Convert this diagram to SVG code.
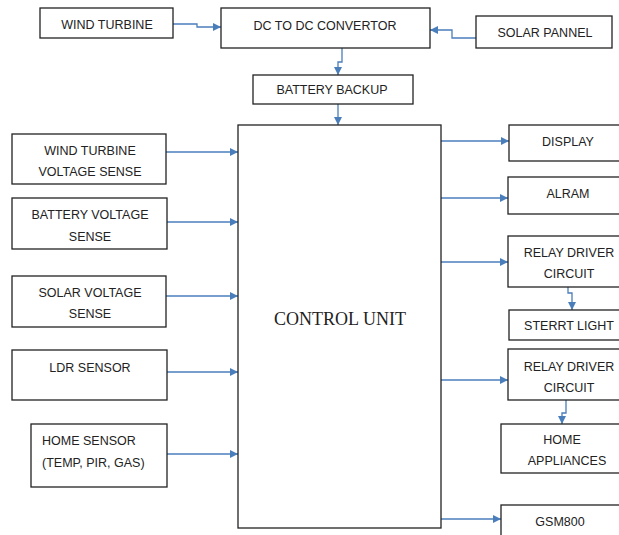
<svg xmlns="http://www.w3.org/2000/svg" width="619" height="535" viewBox="0 0 619 535">
<defs>
<marker id="ah" viewBox="0 0 10 10" refX="10" refY="5" markerWidth="8" markerHeight="8" markerUnits="userSpaceOnUse" orient="auto">
<path d="M0,0 L10,5 L0,10 z" fill="#4a7ebb"/>
</marker>
<style>
rect{fill:#fff;stroke:#222;stroke-width:1.3}
text{font-family:"Liberation Sans",Arial,sans-serif;font-size:12.5px;fill:#222;text-anchor:middle}
.c{stroke:#4a7ebb;stroke-width:1.3;fill:none;marker-end:url(#ah)}
.big{font-family:"Liberation Serif","Times New Roman",serif;font-size:18px}
.l{text-anchor:start}
</style>
</defs>
<rect x="0" y="0" width="619" height="535" style="fill:#fff;stroke:none"/>
<g id="connectors">
<path class="c" d="M173,24 H197 V27 H221"/>
<path class="c" d="M476,38 H452 V30 H430"/>
<path class="c" d="M342,48 V62 H338 V75"/>
<path class="c" d="M338,104 V125"/>
<path class="c" d="M166,152 H238"/>
<path class="c" d="M167,222 H238"/>
<path class="c" d="M166,296 H238"/>
<path class="c" d="M167,372 H238"/>
<path class="c" d="M167,454 H238"/>
<path class="c" d="M441,141 H509"/>
<path class="c" d="M441,198 H508"/>
<path class="c" d="M441,262 H508"/>
<path class="c" d="M568,287 V293 H572 V310"/>
<path class="c" d="M441,380 H508"/>
<path class="c" d="M566,400 V413 H562 V424"/>
<path class="c" d="M441,519 H501"/>
</g>
<g id="wind-turbine"><rect x="40" y="8" width="133" height="30"/><text x="107" y="29">WIND TURBINE</text></g>
<g id="dc-dc"><rect x="221" y="8" width="209" height="40"/><text x="325" y="30">DC TO DC CONVERTOR</text></g>
<g id="solar-pannel"><rect x="476" y="16" width="136" height="32"/><text x="545" y="37">SOLAR PANNEL</text></g>
<g id="battery-backup"><rect x="253" y="75" width="160" height="29"/><text x="332" y="94">BATTERY BACKUP</text></g>
<g id="control-unit"><rect x="238" y="125" width="203" height="403"/><text class="big" x="340" y="325">CONTROL UNIT</text></g>
<g id="wt-voltage"><rect x="12" y="134" width="154" height="50"/><text x="90" y="155">WIND TURBINE</text><text x="90" y="176">VOLTAGE SENSE</text></g>
<g id="bat-voltage"><rect x="12" y="198" width="155" height="51"/><text x="90" y="219">BATTERY  VOLTAGE</text><text x="90" y="241">SENSE</text></g>
<g id="solar-voltage"><rect x="12" y="276" width="154" height="51"/><text x="90" y="297">SOLAR VOLTAGE</text><text x="90" y="318">SENSE</text></g>
<g id="ldr"><rect x="12" y="350" width="155" height="50"/><text x="90" y="372">LDR SENSOR</text></g>
<g id="home-sensor"><rect x="31" y="424" width="136" height="63"/><text class="l" x="42" y="445">HOME SENSOR</text><text class="l" x="42" y="467">(TEMP, PIR, GAS)</text></g>
<g id="display"><rect x="509" y="125" width="115" height="36"/><text x="568" y="146">DISPLAY</text></g>
<g id="alram"><rect x="508" y="177" width="116" height="37"/><text x="568" y="198">ALRAM</text></g>
<g id="relay1"><rect x="508" y="236" width="116" height="51"/><text x="569" y="257">RELAY DRIVER</text><text x="569" y="278">CIRCUIT</text></g>
<g id="street-light"><rect x="509" y="310" width="115" height="30"/><text x="569" y="330">STERRT  LIGHT</text></g>
<g id="relay2"><rect x="508" y="349" width="116" height="51"/><text x="569" y="371">RELAY DRIVER</text><text x="569" y="392">CIRCUIT</text></g>
<g id="home-appliances"><rect x="501" y="424" width="123" height="49"/><text x="562" y="444">HOME</text><text x="567" y="465">APPLIANCES</text></g>
<g id="gsm"><rect x="501" y="505" width="123" height="35"/><text x="560" y="526">GSM800</text></g>
</svg>
